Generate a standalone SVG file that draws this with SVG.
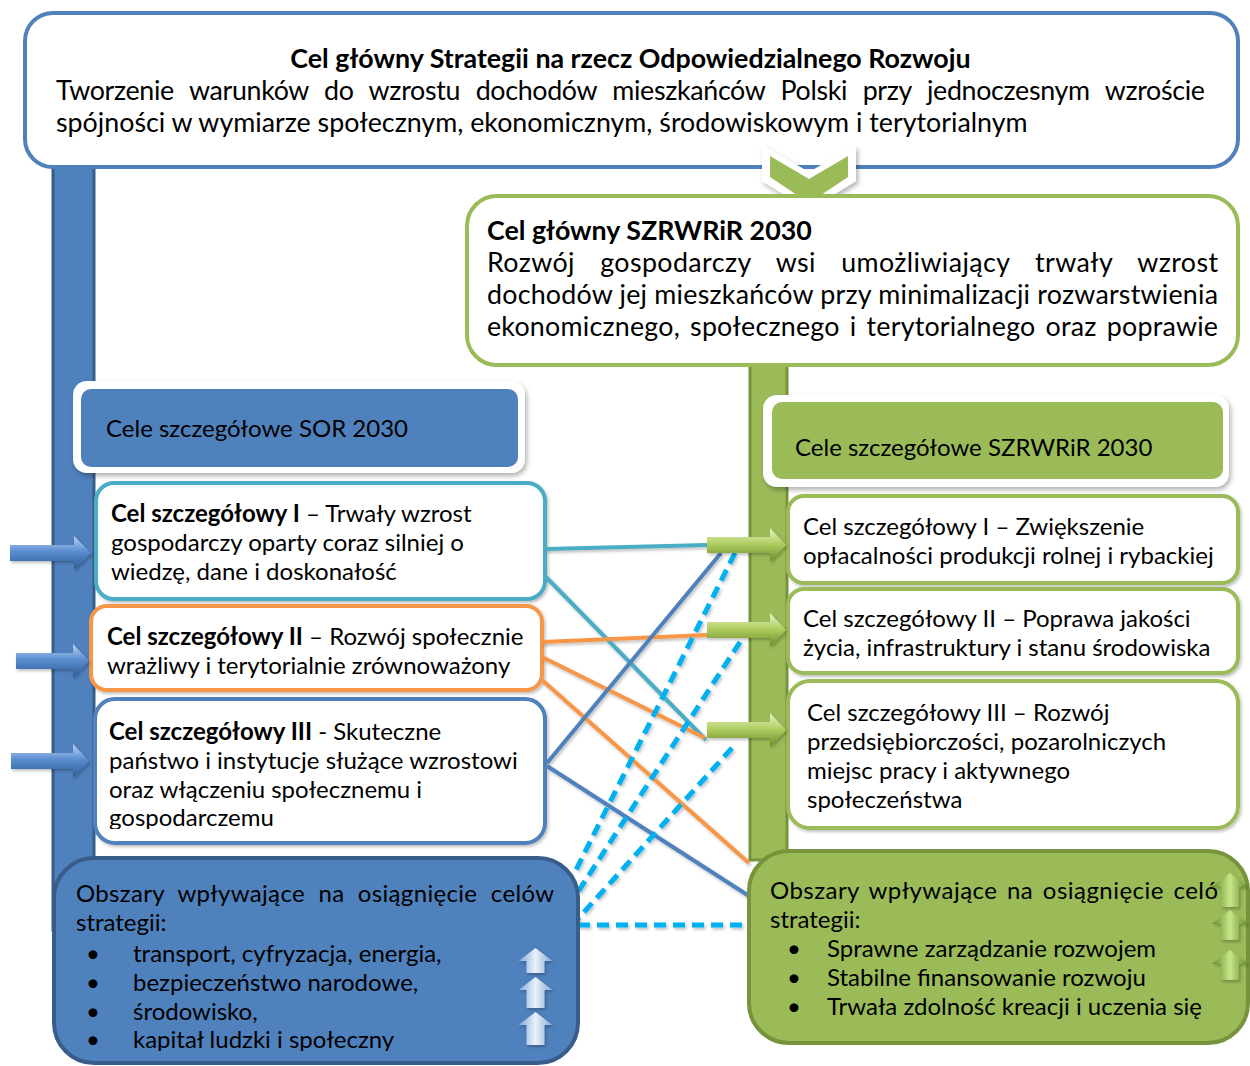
<svg xmlns="http://www.w3.org/2000/svg" width="1250" height="1066" viewBox="0 0 1250 1066">
<defs>
<style>
.t{font-family:Lato,"Open Sans","Liberation Sans",sans-serif;fill:#000;}
.f24{font-size:26.8px;}
.f22{font-size:24px;}
.b{font-weight:bold;}
.box{fill:#fff;stroke-width:4;}
.ln{fill:none;stroke-width:4;stroke-linecap:butt;}
.ds{fill:none;stroke:#00B0F0;stroke-width:5;stroke-dasharray:12 7;}
</style>
<filter id="sh" x="-10%" y="-10%" width="125%" height="135%"><feDropShadow dx="2" dy="3" stdDeviation="2.5" flood-color="#000" flood-opacity="0.3"/></filter>
<filter id="shl" x="-10%" y="-10%" width="125%" height="125%"><feDropShadow dx="1.5" dy="2" stdDeviation="1.5" flood-color="#000" flood-opacity="0.25"/></filter>
<linearGradient id="gBlueArr" x1="0" y1="0" x2="0" y2="1"><stop offset="0" stop-color="#C0D4EE"/><stop offset="0.45" stop-color="#5A8ED2"/><stop offset="1" stop-color="#2C5A94"/></linearGradient>
<linearGradient id="gGreenArr" x1="0" y1="0" x2="0" y2="1"><stop offset="0" stop-color="#E8F2CF"/><stop offset="0.45" stop-color="#B2D063"/><stop offset="1" stop-color="#6A8A2A"/></linearGradient>
<linearGradient id="gUpBlue" x1="0" y1="0" x2="1" y2="0"><stop offset="0" stop-color="#7FA6D8"/><stop offset="0.5" stop-color="#EAF1FA"/><stop offset="1" stop-color="#7FA6D8"/></linearGradient>
<linearGradient id="gUpGreen" x1="0" y1="0" x2="1" y2="0"><stop offset="0" stop-color="#5F8A22"/><stop offset="0.5" stop-color="#C8E58A"/><stop offset="1" stop-color="#5F8A22"/></linearGradient>
<clipPath id="clipC3"><rect x="95" y="699" width="450" height="130"/></clipPath>
<clipPath id="clipLB"><rect x="54" y="858" width="524" height="193"/></clipPath>
</defs>

<g id="bars">
<rect x="53" y="150" width="41" height="780" fill="#4F81BD" stroke="#385D8A" stroke-width="3"/>
<rect x="750" y="355" width="37" height="505" fill="#9BBB59" stroke="#77933C" stroke-width="3"/>
</g>

<g id="node-main-sor">
<rect class="box" x="25" y="13" width="1213" height="154" rx="28" stroke="#4F81BD"/>
<text class="t f24 b" x="630.5" y="68" text-anchor="middle">Cel główny Strategii na rzecz Odpowiedzialnego Rozwoju</text>
<text class="t f24" x="56" y="100" textLength="1149" lengthAdjust="spacing" style="word-spacing:9px">Tworzenie warunków do wzrostu dochodów mieszkańców Polski przy jednoczesnym wzroście</text>
<text class="t f24" x="56" y="132">spójności w wymiarze społecznym, ekonomicznym, środowiskowym i terytorialnym</text>
</g>

<g id="chevron">
<path d="M762,145 L809,172 L856,145 L856,181 L809,210 L762,181 Z" fill="#fff" filter="url(#sh)"/>
<path d="M770,156 L809,179 L848,156 L848,177 L809,203 L770,177 Z" fill="#9BBB59"/>
</g>

<g id="node-main-szrwrir">
<rect class="box" x="467" y="196" width="771" height="169" rx="30" stroke="#9BBB59"/>
<text class="t f24 b" x="487" y="240">Cel główny SZRWRiR 2030</text>
<text class="t f24" x="487" y="272" textLength="731" lengthAdjust="spacing" style="word-spacing:18px">Rozwój gospodarczy wsi umożliwiający trwały wzrost</text>
<text class="t f24" x="487" y="304" textLength="731" lengthAdjust="spacing">dochodów jej mieszkańców przy minimalizacji rozwarstwienia</text>
<text class="t f24" x="487" y="336" textLength="731" lengthAdjust="spacing" style="word-spacing:3px">ekonomicznego, społecznego i terytorialnego oraz poprawie</text>
</g>

<g id="node-sor-header">
<rect x="73" y="381" width="452" height="92" rx="14" fill="#fff" filter="url(#sh)"/>
<rect x="81" y="389" width="437" height="78" rx="10" fill="#4F81BD"/>
<text class="t f22" x="106" y="437">Cele szczegółowe SOR 2030</text>
</g>

<g id="node-szrwrir-header">
<rect x="763" y="395" width="466" height="92" rx="14" fill="#fff" filter="url(#sh)"/>
<rect x="772" y="402" width="451" height="77" rx="10" fill="#9BBB59"/>
<text class="t f22" x="795" y="456">Cele szczegółowe SZRWRiR 2030</text>
</g>

<g id="node-sor-1">
<rect class="box" x="96" y="483" width="449" height="116" rx="18" stroke="#4BACC6" filter="url(#shl)"/>
<text class="t f22" x="111" y="522"><tspan class="b">Cel szczegółowy I</tspan> – Trwały wzrost</text>
<text class="t f22" x="111" y="551">gospodarczy oparty coraz silniej o</text>
<text class="t f22" x="111" y="580">wiedzę, dane i doskonałość</text>
</g>

<g id="node-sor-2">
<rect class="box" x="91" y="606" width="451" height="84" rx="16" stroke="#F79646" filter="url(#shl)"/>
<text class="t f22" x="107" y="645"><tspan class="b">Cel szczegółowy II</tspan> – Rozwój społecznie</text>
<text class="t f22" x="107" y="674">wrażliwy i terytorialnie zrównoważony</text>
</g>

<g id="node-sor-3">
<rect class="box" x="95" y="699" width="450" height="144" rx="20" stroke="#4F81BD" filter="url(#shl)"/>
<g clip-path="url(#clipC3)">
<text class="t f22" x="109" y="740"><tspan class="b">Cel szczegółowy III</tspan> - Skuteczne</text>
<text class="t f22" x="109" y="769">państwo i instytucje służące wzrostowi</text>
<text class="t f22" x="109" y="798">oraz włączeniu społecznemu i</text>
<text class="t f22" x="109" y="826">gospodarczemu</text>
</g>
</g>

<g id="node-szr-1">
<rect class="box" x="788" y="496" width="450" height="87" rx="16" stroke="#9BBB59" filter="url(#shl)"/>
<text class="t f22" x="803" y="535">Cel szczegółowy I – Zwiększenie</text>
<text class="t f22" x="803" y="564">opłacalności produkcji rolnej i rybackiej</text>
</g>

<g id="node-szr-2">
<rect class="box" x="788" y="589" width="450" height="84" rx="16" stroke="#9BBB59" filter="url(#shl)"/>
<text class="t f22" x="803" y="627">Cel szczegółowy II – Poprawa jakości</text>
<text class="t f22" x="803" y="656">życia, infrastruktury i stanu środowiska</text>
</g>

<g id="node-szr-3">
<rect class="box" x="788" y="681" width="450" height="147" rx="22" stroke="#9BBB59" filter="url(#shl)"/>
<text class="t f22" x="807" y="721">Cel szczegółowy III – Rozwój</text>
<text class="t f22" x="807" y="750">przedsiębiorczości, pozarolniczych</text>
<text class="t f22" x="807" y="779">miejsc pracy i aktywnego</text>
<text class="t f22" x="807" y="808">społeczeństwa</text>
</g>

<g id="connectors" filter="url(#shl)">
<line class="ln" stroke="#4BACC6" x1="546" y1="549" x2="707" y2="545"/>
<line class="ln" stroke="#4BACC6" x1="546" y1="577" x2="706" y2="740"/>
<line class="ln" stroke="#F79646" x1="542" y1="642" x2="707" y2="635"/>
<line class="ln" stroke="#F79646" x1="542" y1="657" x2="705" y2="738"/>
<line class="ln" stroke="#F79646" x1="542" y1="680" x2="749" y2="863"/>
<line class="ln" stroke="#4F81BD" x1="547" y1="763" x2="721" y2="553"/>
<line class="ln" stroke="#4F81BD" x1="547" y1="766" x2="749" y2="896"/>
<line class="ds" x1="735" y1="553" x2="575" y2="872"/>
<line class="ds" x1="740" y1="642" x2="576" y2="895"/>
<line class="ds" x1="732" y1="748" x2="575" y2="922"/>
<line class="ds" x1="578" y1="925" x2="749" y2="925"/>
</g>

<g id="arrows-in-left" filter="url(#shl)">
<path d="M10,545 L74,545 L74,536 L91,553 L74,570 L74,561 L10,561 Z" fill="url(#gBlueArr)"/>
<path d="M16,653 L73,653 L73,644 L89,661 L73,678 L73,669 L16,669 Z" fill="url(#gBlueArr)"/>
<path d="M11,753 L73,753 L73,744 L89,761 L73,778 L73,769 L11,769 Z" fill="url(#gBlueArr)"/>
</g>

<g id="arrows-in-right" filter="url(#shl)">
<path d="M707,537 L770,537 L770,528 L786,545 L770,562 L770,553 L707,553 Z" fill="url(#gGreenArr)"/>
<path d="M707,622 L770,622 L770,613 L786,630 L770,647 L770,638 L707,638 Z" fill="url(#gGreenArr)"/>
<path d="M707,722 L770,722 L770,713 L786,730 L770,747 L770,738 L707,738 Z" fill="url(#gGreenArr)"/>
</g>

<g id="node-sor-areas">
<rect x="54" y="858" width="524" height="205" rx="40" fill="#4F81BD" stroke="#385D8A" stroke-width="4"/>
<g clip-path="url(#clipLB)">
<text class="t f22" x="76" y="902" textLength="478" lengthAdjust="spacing" style="word-spacing:7px">Obszary wpływające na osiągnięcie celów</text>
<text class="t f22" x="76" y="931">strategii:</text>
<text class="t f22" x="86" y="962">•</text><text class="t f22" x="133" y="962">transport, cyfryzacja, energia,</text>
<text class="t f22" x="86" y="991">•</text><text class="t f22" x="133" y="991">bezpieczeństwo narodowe,</text>
<text class="t f22" x="86" y="1020">•</text><text class="t f22" x="133" y="1020">środowisko,</text>
<text class="t f22" x="86" y="1048">•</text><text class="t f22" x="133" y="1048">kapitał ludzki i społeczny</text>
</g>
<g filter="url(#shl)">
<path d="M535.5,948 L552.5,961 L544.5,961 L544.5,973 L526.5,973 L526.5,961 L518.5,961 Z" fill="url(#gUpBlue)"/>
<path d="M535.5,977 L552.5,990 L544.5,990 L544.5,1008 L526.5,1008 L526.5,990 L518.5,990 Z" fill="url(#gUpBlue)"/>
<path d="M535.5,1012 L552.5,1025 L544.5,1025 L544.5,1045 L526.5,1045 L526.5,1025 L518.5,1025 Z" fill="url(#gUpBlue)"/>
</g>
</g>

<g id="node-szr-areas">
<rect x="749" y="851" width="499" height="192" rx="40" fill="#9BBB59" stroke="#77933C" stroke-width="4"/>
<text class="t f22" x="770" y="899" textLength="448" lengthAdjust="spacing" style="word-spacing:3px">Obszary wpływające na osiągnięcie celó</text>
<text class="t f22" x="770" y="928">strategii:</text>
<text class="t f22" x="787" y="957">•</text><text class="t f22" x="827" y="957">Sprawne zarządzanie rozwojem</text>
<text class="t f22" x="787" y="986">•</text><text class="t f22" x="827" y="986">Stabilne finansowanie rozwoju</text>
<text class="t f22" x="787" y="1015">•</text><text class="t f22" x="827" y="1015">Trwała zdolność kreacji i uczenia się</text>
<g filter="url(#shl)">
<path d="M1230,873 L1248,887 L1239,887 L1239,907 L1221,907 L1221,887 L1212,887 Z" fill="url(#gUpGreen)"/>
<path d="M1230,910 L1248,924 L1239,924 L1239,940 L1221,940 L1221,924 L1212,924 Z" fill="url(#gUpGreen)"/>
<path d="M1230,950 L1248,964 L1239,964 L1239,980 L1221,980 L1221,964 L1212,964 Z" fill="url(#gUpGreen)"/>
</g>
</g>
</svg>
